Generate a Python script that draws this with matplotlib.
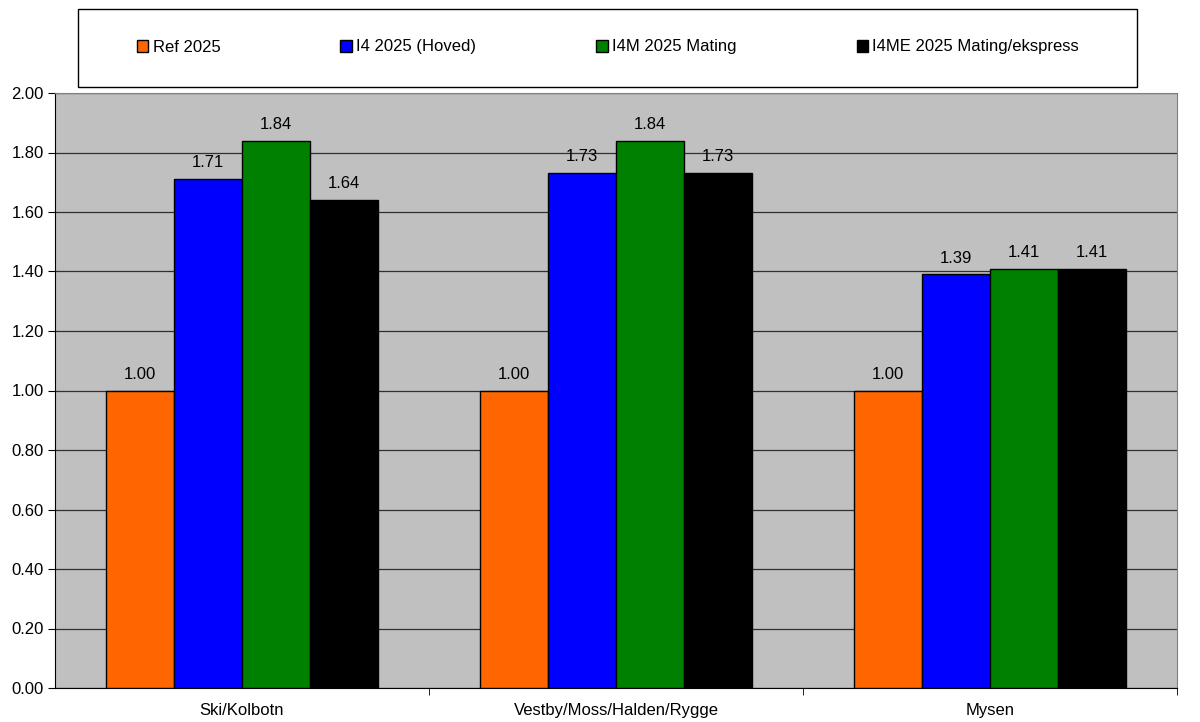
import matplotlib
matplotlib.use('Agg')
import matplotlib.pyplot as plt
from matplotlib.patches import Rectangle
import numpy as np

plt.rcParams['font.family'] = ['Liberation Sans', 'DejaVu Sans']

categories = ['Ski/Kolbotn', 'Vestby/Moss/Halden/Rygge', 'Mysen']
series_names = ['Ref 2025', 'I4 2025 (Hoved)', 'I4M 2025 Mating', 'I4ME 2025 Mating/ekspress']
ref_2025 = [1.00, 1.00, 1.00]
i4_2025 = [1.71, 1.73, 1.39]
i4m_2025 = [1.84, 1.84, 1.41]
i4me_2025 = [1.64, 1.73, 1.41]
colors = ['#FF6600', '#0000FF', '#008000', '#000000']

fig = plt.figure(figsize=(12, 7.22), dpi=100)
ax = fig.add_axes([55/1200, 1 - 688/722, 1122/1200, 595/722])
ax.set_facecolor('#C0C0C0')

x = np.arange(len(categories))
w = 0.182
all_series = [ref_2025, i4_2025, i4m_2025, i4me_2025]
handles = []
for i, (vals, name, c) in enumerate(zip(all_series, series_names, colors)):
    pos = x + (i - 1.5) * w
    b = ax.bar(pos, vals, w, color=c, edgecolor='black', linewidth=1, label=name, zorder=3)
    handles.append(b)
    for px, v in zip(pos, vals):
        ax.text(px, v + 0.03, f'{v:.2f}', ha='center', va='bottom', fontsize=12, zorder=4)

ax.set_xlim(-0.5, 2.5)
ax.set_ylim(0, 2.0)
ax.set_yticks(np.arange(0, 2.01, 0.2))
ax.set_yticklabels([f'{t:.2f}' for t in np.arange(0, 2.01, 0.2)])
ax.yaxis.grid(True, color='#303030', linewidth=0.9, zorder=1)
ax.set_axisbelow(True)

ax.set_xticks(x)
ax.set_xticklabels(categories)
ax.tick_params(axis='x', length=0, labelsize=12, pad=11)
ax.set_xticks([0.5, 1.5, 2.5], minor=True)
ax.tick_params(axis='x', which='minor', length=5, direction='out', color='black')
ax.tick_params(axis='y', length=5, direction='out', labelsize=12, pad=3)

for s in ['top', 'right']:
    ax.spines[s].set_color('#808080')
for s in ['left', 'bottom']:
    ax.spines[s].set_color('black')

# legend box
fig.patches.append(Rectangle((78/1200, 1 - 87/722), 1059/1200, 78/722,
                             transform=fig.transFigure, facecolor='white',
                             edgecolor='black', linewidth=1))
fig.legend(handles=handles, labels=series_names, loc='center',
           bbox_to_anchor=(608/1200, 1 - 47/722), ncol=4, frameon=False,
           fontsize=12, handlelength=0.7, handleheight=0.7, handletextpad=0.25,
           columnspacing=7.2, borderaxespad=0)

fig.savefig('out.png', dpi=100)
